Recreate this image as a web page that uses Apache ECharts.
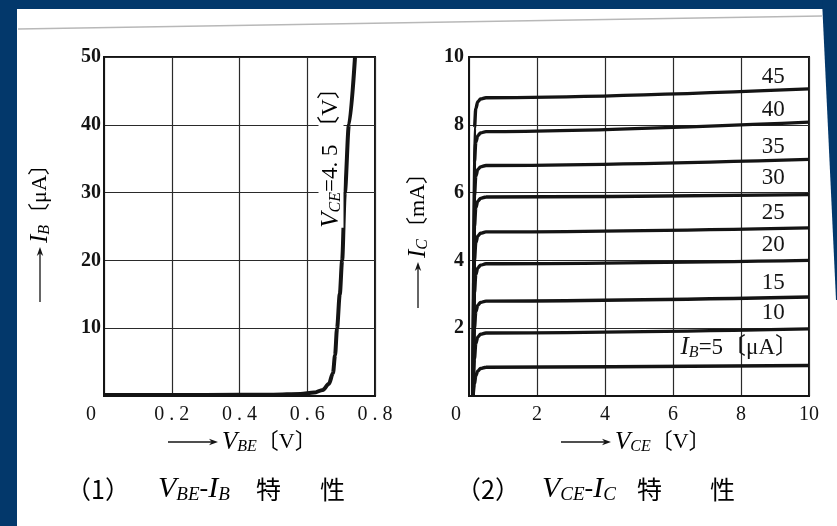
<!DOCTYPE html>
<html><head><meta charset="utf-8">
<script src="https://cdn.jsdelivr.net/npm/echarts@6/dist/echarts.min.js"></script>
<style>html,body{margin:0;padding:0;background:#fff}#c{width:837px;height:526px}</style>
</head><body><div id="c"></div>
<script>
// ---- Data ----
// (1) VBE - IB characteristic, VCE = 4.5 V
const vbeIb = [[0,0.15],[0.3,0.15],[0.5,0.2],[0.58,0.3],[0.62,0.5],[0.646,0.9],[0.664,1.8],[0.676,3.4],[0.682,6],[0.688,10],[0.696,15],[0.703,20],[0.711,30],[0.723,40],[0.741,50]];
const leftXTicks = [0,0.2,0.4,0.6,0.8];
const leftYTicks = [10,20,30,40,50];

// (2) VCE - IC characteristics, one curve per IB [μA]
const ibValues = [5,10,15,20,25,30,35,40,45];
const ic5  = [[0.12,0],[0.16,0.35],[0.2,0.6],[0.26,0.74],[0.34,0.81],[0.5,0.85],[10,0.9]];
const ic10 = [[0.12,0],[0.16,1.1],[0.2,1.55],[0.26,1.74],[0.34,1.82],[0.5,1.86],[10,1.98]];
const ic15 = [[0.12,0],[0.16,2.0],[0.2,2.48],[0.26,2.68],[0.34,2.76],[0.5,2.8],[10,2.92]];
const ic20 = [[0.12,0],[0.16,3.05],[0.2,3.58],[0.26,3.78],[0.34,3.86],[0.5,3.9],[10,4.0]];
const ic25 = [[0.12,0],[0.16,4.0],[0.2,4.52],[0.26,4.72],[0.34,4.8],[0.5,4.84],[10,4.96]];
const ic30 = [[0.12,0],[0.16,5.0],[0.2,5.55],[0.26,5.75],[0.34,5.83],[0.5,5.87],[10,5.94]];
const ic35 = [[0.12,0],[0.16,5.9],[0.2,6.48],[0.26,6.68],[0.34,6.76],[0.5,6.8],[10,6.98]];
const ic40 = [[0.12,0],[0.16,6.9],[0.2,7.48],[0.26,7.68],[0.34,7.76],[0.5,7.8],[10,8.08]];
const ic45 = [[0.12,0],[0.16,7.9],[0.2,8.48],[0.26,8.68],[0.34,8.76],[0.5,8.8],[10,9.06]];
const icCurves = [ic5,ic10,ic15,ic20,ic25,ic30,ic35,ic40,ic45];
// curve labels: [VCE, IC] position of the label text
const curveLabelPos = [[7.95,1.42],[8.95,2.45],[8.95,3.33],[8.95,4.45],[8.95,5.4],[8.95,6.43],[8.95,7.35],[8.95,8.44],[8.95,9.41]];
const rightXTicks = [0,2,4,6,8,10];
const rightYTicks = [2,4,6,8,10];

// ---- Styling ----
const SERIF = '"Liberation Serif","DejaVu Serif","Noto Sans CJK JP",serif';
const INK = '#141414';
const rich = {
  n:{fontFamily:SERIF,fontSize:22,color:INK},
  b:{fontFamily:SERIF,fontSize:23,color:INK},
  i:{fontFamily:SERIF,fontSize:25,fontStyle:'italic',color:INK},
  s:{fontFamily:SERIF,fontSize:16,fontStyle:'italic',color:INK,verticalAlign:'bottom',padding:[9,0,0,0]},
  I:{fontFamily:SERIF,fontSize:30,fontStyle:'italic',color:INK},
  S:{fontFamily:SERIF,fontSize:19,fontStyle:'italic',color:INK,verticalAlign:'bottom',padding:[11,0,0,0]},
  N:{fontFamily:SERIF,fontSize:26,color:INK},
  j:{fontFamily:'"Noto Sans CJK JP",sans-serif',fontSize:25,color:INK},
  z:{fontFamily:SERIF,fontSize:20,color:INK,padding:[0,26,0,0]}
};

const chart = echarts.init(document.getElementById('c'));

function axisCommon(){
  return {
    axisLine:{show:true,lineStyle:{color:INK,width:2}},
    axisTick:{show:false},
    splitLine:{show:true,lineStyle:{color:'#2a2a2a',width:1.2}},
    axisLabel:{fontFamily:SERIF,fontSize:20,color:INK,rich:rich}
  };
}

const curveSeries = icCurves.map((d,k)=>({
  type:'line',xAxisIndex:1,yAxisIndex:1,data:d,showSymbol:false,smooth:0.35,smoothMonotone:'x',
  lineStyle:{color:INK,width:3.4},z:3,silent:true
}));

const labelSeries = {
  type:'scatter',xAxisIndex:1,yAxisIndex:1,symbolSize:0,silent:true,z:5,
  itemStyle:{opacity:1,color:INK},
  data:curveLabelPos.map((p,k)=>({value:p,name:String(ibValues[k])})),
  label:{show:true,position:'inside',color:INK,opacity:1,rich:rich,
    formatter:p=> p.dataIndex===0 ? '{i|I}{s|B}{b|=5〔μA〕}' : '{b|'+p.name+'}'}
};

// thin long arrows used in the axis names
function arrow(x1,y1,x2,y2){
  const dx=x2-x1, dy=y2-y1, L=Math.hypot(dx,dy), ux=dx/L, uy=dy/L, px=-uy, py=ux;
  const hl=9, hw=3.2;
  return [
    {type:'line',shape:{x1:x1,y1:y1,x2:x2-ux*hl*0.6,y2:y2-uy*hl*0.6},style:{stroke:INK,lineWidth:1.3},z:20},
    {type:'polygon',shape:{points:[[x2,y2],[x2-ux*hl+px*hw,y2-uy*hl+py*hw],[x2-ux*hl*0.7,y2-uy*hl*0.7],[x2-ux*hl-px*hw,y2-uy*hl-py*hw]]},style:{fill:INK},z:20}
  ];
}
function txt(x,y,text,opt){
  return Object.assign({type:'text',x:x,y:y,z:20,style:{text:text,rich:rich,align:'left',verticalAlign:'middle'}},opt||{});
}

chart.setOption({
  backgroundColor:'#ffffff',
  animation:false,
  grid:[
    {left:104,right:462,top:57,bottom:130,show:true,borderColor:INK,borderWidth:2},
    {left:469,right:28,top:57,bottom:130,show:true,borderColor:INK,borderWidth:2}
  ],
  xAxis:[
    Object.assign(axisCommon(),{gridIndex:0,type:'value',min:leftXTicks[0],max:leftXTicks[leftXTicks.length-1],interval:0.2,
      axisLabel:Object.assign(axisCommon().axisLabel,{margin:9,formatter:v=>v===0?'{z|0}':v.toFixed(1).split('').join(' ')})}),
    Object.assign(axisCommon(),{gridIndex:1,type:'value',min:rightXTicks[0],max:rightXTicks[rightXTicks.length-1],interval:2,
      axisLabel:Object.assign(axisCommon().axisLabel,{margin:9,formatter:v=>v===0?'{z|0}':String(v)})})
  ],
  yAxis:[
    Object.assign(axisCommon(),{gridIndex:0,type:'value',min:0,max:leftYTicks[leftYTicks.length-1],interval:10,
      axisLabel:Object.assign(axisCommon().axisLabel,{margin:3,fontWeight:'bold',formatter:v=>v===0?'':String(v)})}),
    Object.assign(axisCommon(),{gridIndex:1,type:'value',min:0,max:rightYTicks[rightYTicks.length-1],interval:2,
      axisLabel:Object.assign(axisCommon().axisLabel,{margin:5,fontWeight:'bold',formatter:v=>v===0?'':String(v)})})
  ],
  series:[
    {type:'line',xAxisIndex:0,yAxisIndex:0,data:vbeIb,showSymbol:false,smooth:0.3,smoothMonotone:'x',
     lineStyle:{color:INK,width:4},z:3,silent:true},
    ...curveSeries,
    labelSeries
  ],
  graphic:[
    // page frame (navy scan border) and faint fold line
    {type:'rect',shape:{x:0,y:0,width:17,height:526},style:{fill:'#03386b'},z:100},
    {type:'rect',shape:{x:0,y:0,width:837,height:9},style:{fill:'#03386b'},z:100},
    {type:'polygon',shape:{points:[[822,0],[837,0],[837,300],[836,300]]},style:{fill:'#03386b'},z:100},
    {type:'line',shape:{x1:18,y1:29,x2:822,y2:16},style:{stroke:'#b8b8b8',lineWidth:1.5},z:90},
    // curve label on left chart
    {type:'text',x:331,y:152,rotation:Math.PI/2,z:20,
     style:{text:'{i|V}{s|CE}{b|=4. 5 〔V〕}',rich:rich,align:'center',verticalAlign:'middle',backgroundColor:'#fff'}},
    // axis names
    ...arrow(40,302,40,247),
    txt(40,243,'{i|I}{s|B}{n|〔μA〕}',{rotation:Math.PI/2}),
    ...arrow(418,308,418,262),
    txt(418,258,'{i|I}{s|C}{n|〔mA〕}',{rotation:Math.PI/2}),
    ...arrow(168,442,218,442),
    txt(222,442,'{i|V}{s|BE}{n|〔V〕}'),
    ...arrow(561,442,611,442),
    txt(615,442,'{i|V}{s|CE}{n|〔V〕}'),
    // captions
    txt(66,489,'{j|（1）}'),
    txt(158,489,'{I|V}{S|BE}{N|-}{I|I}{S|B}'),
    txt(256,489,'{j|特}'),
    txt(320,489,'{j|性}'),
    txt(456,489,'{j|（2）}'),
    txt(542,489,'{I|V}{S|CE}{N|-}{I|I}{S|C}'),
    txt(637,489,'{j|特}'),
    txt(710,489,'{j|性}')
  ]
});
</script></body></html>
